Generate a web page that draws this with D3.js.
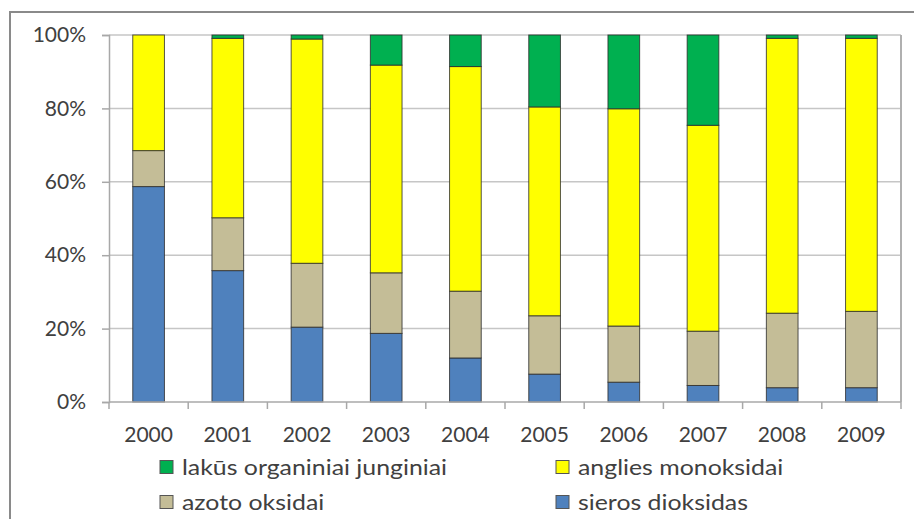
<!DOCTYPE html>
<html><head><meta charset="utf-8">
<script src="https://cdn.jsdelivr.net/npm/d3@7"></script>
<style>body{margin:0;background:#fff}svg{display:block}text{font-family:Lato,"Open Sans",sans-serif;fill:#404040}</style>
</head><body>
<svg id="c" width="914" height="519"></svg>
<script>
const years = ["2000","2001","2002","2003","2004","2005","2006","2007","2008","2009"];
const seriesNames = ["sieros dioksidas","azoto oksidai","anglies monoksidai","lakūs organiniai junginiai"];
const sieros  = [58.7, 35.8, 20.4, 18.7, 12.0, 7.6, 5.4, 4.5, 3.9, 3.9];
const azoto   = [9.8, 14.4, 17.4, 16.5, 18.2, 15.9, 15.3, 14.8, 20.3, 20.8];
const anglies = [31.5, 48.9, 61.1, 56.6, 61.2, 56.9, 59.2, 56.1, 74.9, 74.4];
const lakus   = [0.0, 0.9, 1.1, 8.2, 8.6, 19.6, 20.1, 24.6, 0.9, 0.9];
const yTicks = [0, 20, 40, 60, 80, 100];
const colors = ["#4f81bd", "#c4bd97", "#ffff00", "#00b050"];

(function () {
const svg = d3.select("#c");
const pL = 109, pR = 901, pT = 35, pB = 402;

// outer chart border (cut off at right/bottom)
svg.append("path").attr("d", `M10,519 L10,12 L914,12`).attr("fill","none").attr("stroke","#8a8a8a").attr("stroke-width",2);

const x = d3.scaleBand().domain(years).range([pL, pR]).paddingInner(0.6).paddingOuter(0.3);
const xb = d3.scaleBand().domain(years).range([pL, pR]);
const y = d3.scaleLinear().domain([0, 100]).range([pB, pT]);

// gridlines
svg.append("g").selectAll("line").data(yTicks.filter(d => d > 0)).join("line")
  .attr("x1", pL).attr("x2", pR).attr("y1", d => y(d)).attr("y2", d => y(d))
  .attr("stroke", "#c6c6c6").attr("stroke-width", 1.5);
// right plot border
svg.append("line").attr("x1", pR).attr("x2", pR).attr("y1", pT).attr("y2", pB)
  .attr("stroke", "#b0b0b0").attr("stroke-width", 2);

const table = years.map((yr, i) => ({year: yr, s0: sieros[i], s1: azoto[i], s2: anglies[i], s3: lakus[i]}));
const stacked = d3.stack().keys(["s0","s1","s2","s3"])(table);

svg.append("g").selectAll("g").data(stacked).join("g")
  .attr("fill", (d, i) => colors[i])
  .selectAll("rect").data(d => d.filter(p => p[1] - p[0] > 0)).join("rect")
  .attr("x", d => x(d.data.year)).attr("width", x.bandwidth())
  .attr("y", d => y(d[1])).attr("height", d => y(d[0]) - y(d[1]))
  .attr("stroke", "#2a2a2a").attr("stroke-opacity", 0.8).attr("stroke-width", 1);

// y axis
const yAxis = svg.append("g").attr("transform", `translate(${pL},0)`)
  .call(d3.axisLeft(y).tickValues(yTicks).tickFormat(d => d + "%").tickSize(7).tickPadding(16));
yAxis.select(".domain").attr("stroke", "#a8a8a8").attr("stroke-width", 1.5);
yAxis.selectAll(".tick line").attr("stroke", "#a8a8a8").attr("stroke-width", 1.5);
yAxis.selectAll("text").attr("font-size", 21).attr("fill", "#404040").attr("font-family", "Lato");

// x axis
const bounds = years.map(yr => xb(yr)).concat([pR]);
const xAxis = svg.append("g");
xAxis.append("line").attr("x1", pL).attr("x2", pR).attr("y1", pB).attr("y2", pB)
  .attr("stroke", "#a8a8a8").attr("stroke-width", 1.5);
xAxis.selectAll(".tk").data(bounds).join("line").attr("class","tk")
  .attr("x1", d => d).attr("x2", d => d).attr("y1", pB).attr("y2", pB + 7)
  .attr("stroke", "#a8a8a8").attr("stroke-width", 1.5);
xAxis.selectAll("text").data(years).join("text")
  .attr("x", d => xb(d) + xb.bandwidth() / 2).attr("y", 442)
  .attr("text-anchor", "middle").attr("font-size", 21).text(d => d);

// legend
const legendItems = [
  {name: seriesNames[3], color: colors[3], lx: 160, ly: 467},
  {name: seriesNames[2], color: colors[2], lx: 556, ly: 467},
  {name: seriesNames[1], color: colors[1], lx: 160, ly: 502},
  {name: seriesNames[0], color: colors[0], lx: 556, ly: 502}
];
const lg = svg.append("g").selectAll("g").data(legendItems).join("g")
  .attr("transform", d => `translate(${d.lx},${d.ly})`);
lg.append("rect").attr("x", 0).attr("y", -6.5).attr("width", 13).attr("height", 13)
  .attr("fill", d => d.color).attr("stroke", "#555").attr("stroke-width", 1);
lg.append("text").attr("transform", "translate(22,0) scale(1.13,1)").attr("dy", "0.35em")
  .attr("font-size", 22).text(d => d.name);
})();
</script>
</body></html>
